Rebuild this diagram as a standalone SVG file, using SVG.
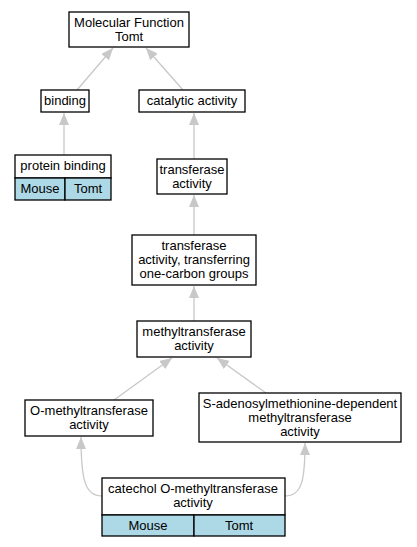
<svg xmlns="http://www.w3.org/2000/svg" width="417" height="547" viewBox="0 0 417 547">
<style>
.box{fill:#fff;stroke:#000;stroke-width:1.3}
.cell{fill:#add8e6;stroke:#000;stroke-width:1.3}
text{font-family:"Liberation Sans",Arial,sans-serif;font-size:13px;text-anchor:middle;fill:#000}
.e{fill:none;stroke:#c8c8c8;stroke-width:1.3}
</style>
<defs>
<marker id="a" viewBox="0 0 12 10" refX="12" refY="5" markerWidth="12" markerHeight="10" markerUnits="userSpaceOnUse" orient="auto">
<path d="M0,0 L12,5 L0,10 Z" fill="#c8c8c8"/>
</marker>
</defs>
<rect width="417" height="547" fill="#fff"/>
<g id="edges">
<path class="e" marker-end="url(#a)" d="M77,90 L113,48"/>
<path class="e" marker-end="url(#a)" d="M183,90 L146,48"/>
<path class="e" marker-end="url(#a)" d="M64,155 L64,113"/>
<path class="e" marker-end="url(#a)" d="M194,159 L194,113"/>
<path class="e" marker-end="url(#a)" d="M194,235 L194,195"/>
<path class="e" marker-end="url(#a)" d="M194,321 L194,286"/>
<path class="e" marker-end="url(#a)" d="M114,400 L172,358"/>
<path class="e" marker-end="url(#a)" d="M266,393 L217,358"/>
<path class="e" marker-end="url(#a)" d="M102,496 C85,496 81,480 81,437"/>
<path class="e" marker-end="url(#a)" d="M285,496 C302,496 305,480 305,443"/>
</g>
<g id="mf">
<rect class="box" x="69" y="12" width="120" height="35"/>
<text x="129" y="27">Molecular Function</text>
<text x="129" y="41">Tomt</text>
</g>
<g id="binding">
<rect class="box" x="41" y="90" width="48" height="22"/>
<text x="65" y="105">binding</text>
</g>
<g id="catalytic">
<rect class="box" x="139" y="90" width="106" height="22"/>
<text x="192" y="105">catalytic activity</text>
</g>
<g id="protein-binding">
<rect class="box" x="15" y="155" width="96" height="23"/>
<text x="63" y="170">protein binding</text>
<rect class="cell" x="15" y="178" width="50" height="22"/>
<rect class="cell" x="65" y="178" width="46" height="22"/>
<text x="40" y="193">Mouse</text>
<text x="88" y="193">Tomt</text>
</g>
<g id="transferase">
<rect class="box" x="157" y="159" width="70" height="35"/>
<text x="192" y="174">transferase</text>
<text x="192" y="188">activity</text>
</g>
<g id="one-carbon">
<rect class="box" x="132" y="235" width="124" height="50"/>
<text x="194" y="250">transferase</text>
<text x="194" y="264">activity, transferring</text>
<text x="194" y="278">one-carbon groups</text>
</g>
<g id="methyl">
<rect class="box" x="137" y="321" width="114" height="36"/>
<text x="194" y="336">methyltransferase</text>
<text x="194" y="350">activity</text>
</g>
<g id="o-methyl">
<rect class="box" x="25" y="400" width="128" height="36"/>
<text x="89" y="415">O-methyltransferase</text>
<text x="89" y="429">activity</text>
</g>
<g id="sam">
<rect class="box" x="199" y="393" width="202" height="49"/>
<text x="300" y="408">S-adenosylmethionine-dependent</text>
<text x="300" y="422">methyltransferase</text>
<text x="300" y="436">activity</text>
</g>
<g id="catechol">
<rect class="box" x="102" y="478" width="183" height="37"/>
<text x="193" y="493">catechol O-methyltransferase</text>
<text x="193" y="507">activity</text>
<rect class="cell" x="102" y="515" width="92" height="21"/>
<rect class="cell" x="194" y="515" width="91" height="21"/>
<text x="148" y="530">Mouse</text>
<text x="239" y="530">Tomt</text>
</g>
</svg>
